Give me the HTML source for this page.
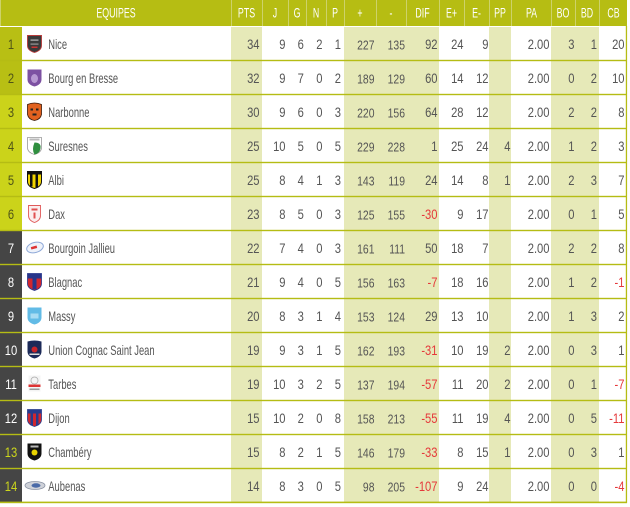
<!DOCTYPE html>
<html><head><meta charset="utf-8"><style>
html,body{margin:0;padding:0;background:#fff;}
svg{display:block;}
text{font-family:"Liberation Sans",sans-serif;font-size:14px;}
.n text{fill:#555;text-anchor:end;}
.s text{font-size:13px;}
.h{fill:#fff;text-anchor:middle;}
.red{fill:#e5393b !important;}
</style></head><body>
<svg width="630" height="507" viewBox="0 0 630 507" xmlns="http://www.w3.org/2000/svg">
<rect x="0" y="0" width="630" height="507" fill="#fff"/>
<!-- header -->
<rect x="0" y="0" width="627" height="26" fill="#b6bd13"/>
<g fill="#cdd26a">
<rect x="0" y="0" width="1" height="26"/>
<rect x="231" y="0" width="1" height="26"/>
<rect x="262" y="0" width="1" height="26"/>
<rect x="288" y="0" width="1" height="26"/>
<rect x="306" y="0" width="1" height="26"/>
<rect x="326" y="0" width="1" height="26"/>
<rect x="344" y="0" width="1" height="26"/>
<rect x="376" y="0" width="1" height="26"/>
<rect x="406" y="0" width="1" height="26"/>
<rect x="439" y="0" width="1" height="26"/>
<rect x="464" y="0" width="1" height="26"/>
<rect x="489" y="0" width="1" height="26"/>
<rect x="511" y="0" width="1" height="26"/>
<rect x="551" y="0" width="1" height="26"/>
<rect x="575" y="0" width="1" height="26"/>
<rect x="599" y="0" width="1" height="26"/>
</g>
<g class="h">
<text class="h" transform="translate(116,17.5) scale(.63,1)">EQUIPES</text>
<text class="h" transform="translate(246.5,17.5) scale(.63,1)">PTS</text>
<text class="h" transform="translate(275,17.5) scale(.63,1)">J</text>
<text class="h" transform="translate(297,17.5) scale(.63,1)">G</text>
<text class="h" transform="translate(316,17.5) scale(.63,1)">N</text>
<text class="h" transform="translate(335,17.5) scale(.63,1)">P</text>
<text class="h" transform="translate(360,17.5) scale(.63,1)">+</text>
<text class="h" transform="translate(391,17.5) scale(.63,1)">-</text>
<text class="h" transform="translate(422.5,17.5) scale(.63,1)">DIF</text>
<text class="h" transform="translate(451.5,17.5) scale(.63,1)">E+</text>
<text class="h" transform="translate(476.5,17.5) scale(.63,1)">E-</text>
<text class="h" transform="translate(500,17.5) scale(.63,1)">PP</text>
<text class="h" transform="translate(531.5,17.5) scale(.63,1)">PA</text>
<text class="h" transform="translate(563,17.5) scale(.63,1)">BO</text>
<text class="h" transform="translate(587,17.5) scale(.63,1)">BD</text>
<text class="h" transform="translate(613.5,17.5) scale(.63,1)">CB</text>
</g>
<!-- shaded columns -->
<g fill="#e6e9b8">
<rect x="231" y="27" width="31" height="476"/>
<rect x="344" y="27" width="95" height="476"/>
<rect x="489" y="27" width="22" height="476"/>
<rect x="551" y="27" width="48" height="476"/>
</g>
<!-- rank backgrounds -->
<rect x="0" y="27" width="22" height="68" fill="#b8bf14"/>
<rect x="0" y="95" width="22" height="136" fill="#cbd31a"/>
<rect x="0" y="231" width="22" height="272" fill="#454545"/>
<!-- row lines -->
<g fill="#b5bc14">
<rect x="0" y="59.8" width="627" height="1.4"/>
<rect x="0" y="93.8" width="627" height="1.4"/>
<rect x="0" y="127.8" width="627" height="1.4"/>
<rect x="0" y="161.8" width="627" height="1.4"/>
<rect x="0" y="195.8" width="627" height="1.4"/>
<rect x="0" y="229.8" width="627" height="1.4"/>
<rect x="0" y="263.8" width="627" height="1.4"/>
<rect x="0" y="297.8" width="627" height="1.4"/>
<rect x="0" y="331.8" width="627" height="1.4"/>
<rect x="0" y="365.8" width="627" height="1.4"/>
<rect x="0" y="399.8" width="627" height="1.4"/>
<rect x="0" y="433.8" width="627" height="1.4"/>
<rect x="0" y="467.8" width="627" height="1.4"/>
<rect x="0" y="501.6" width="627" height="1.6"/>
<rect x="625.8" y="26" width="1.3" height="477"/>
</g>
<!-- ranks -->
<g transform="translate(11,0) scale(.8,1)">
<text x="0" y="49" text-anchor="middle" fill="#4f5417">1</text>
<text x="0" y="83" text-anchor="middle" fill="#4f5417">2</text>
<text x="0" y="117" text-anchor="middle" fill="#4f5417">3</text>
<text x="0" y="151" text-anchor="middle" fill="#4f5417">4</text>
<text x="0" y="185" text-anchor="middle" fill="#4f5417">5</text>
<text x="0" y="219" text-anchor="middle" fill="#4f5417">6</text>
<text x="0" y="253" text-anchor="middle" fill="#fff">7</text>
<text x="0" y="287" text-anchor="middle" fill="#fff">8</text>
<text x="0" y="321" text-anchor="middle" fill="#fff">9</text>
<text x="0" y="355" text-anchor="middle" fill="#fff">10</text>
<text x="0" y="389" text-anchor="middle" fill="#fff">11</text>
<text x="0" y="423" text-anchor="middle" fill="#fff">12</text>
<text x="0" y="457" text-anchor="middle" fill="#cdd71c">13</text>
<text x="0" y="491" text-anchor="middle" fill="#cdd71c">14</text>
</g>
<!-- logos -->
<g transform="translate(34.5,43.5)"><path d="M-7,-8H7V2Q7,7 0,9Q-7,7 -7,2Z" fill="#3a3a3a" stroke="#b73a3a" stroke-width="0.9"/><rect x="-4" y="-4" width="8" height="1.2" fill="#bbb"/><rect x="-4" y="0" width="8" height="1.2" fill="#999"/><rect x="-3" y="3" width="6" height="1.5" fill="#c33"/></g>
<g transform="translate(34.5,77.5)"><path d="M-7,-8H7V2Q7,7 0,9Q-7,7 -7,2Z" fill="#7d51a2"/><ellipse cx="0" cy="1" rx="3.5" ry="4.5" fill="#b899d2"/></g>
<g transform="translate(34.5,111.5)"><path d="M-7,-7Q0,-10 7,-7V3Q6,8 0,9Q-6,8 -7,3Z" fill="#e1611f" stroke="#3a1a0a" stroke-width="0.8"/><rect x="-4" y="-3" width="2.5" height="2" fill="#222"/><rect x="1.5" y="-3" width="2.5" height="2" fill="#222"/><rect x="-2" y="2" width="4" height="2" fill="#222"/></g>
<g transform="translate(34.5,145.5)"><path d="M-7,-8H7V2Q7,7 0,9Q-7,7 -7,2Z" fill="#fff" stroke="#999" stroke-width="0.8"/><path d="M0,-3Q7,-3 6,3Q5,8 0,9Q-3,4 0,-3Z" fill="#2f8f3f"/><rect x="-5" y="-7" width="10" height="2" fill="#bbb"/></g>
<g transform="translate(34.5,179.5)"><path d="M-7,-8H7V2Q7,7 0,9Q-7,7 -7,2Z" fill="#f1d400" stroke="#111" stroke-width="1"/><rect x="-4.5" y="-7" width="2.5" height="14" fill="#111"/><rect x="1" y="-7" width="2.5" height="15" fill="#111"/><rect x="-7" y="-8" width="14" height="3" fill="#111"/></g>
<g transform="translate(34.5,213.5)"><path d="M-6,-8H6V2Q6,7 0,9Q-6,7 -6,2Z" fill="#fbeded" stroke="#e05a5a" stroke-width="0.9"/><rect x="-3" y="-5" width="6" height="2" fill="#e05050"/><rect x="-1" y="-1" width="2" height="6" fill="#e05050"/></g>
<g transform="translate(35,247.5) rotate(-15)"><ellipse cx="0" cy="0" rx="8.5" ry="5" fill="#eef2fa" stroke="#8fa9d8" stroke-width="1"/><rect x="-4" y="-1.5" width="6" height="2.5" fill="#d33"/></g>
<g transform="translate(34.5,281.5)"><path d="M-7,-8H7V2Q7,7 0,9Q-7,7 -7,2Z" fill="#d2262e" stroke="#27358a" stroke-width="0.8"/><rect x="-7" y="-8" width="14" height="5" fill="#27358a"/><rect x="-2" y="-3" width="4" height="11" fill="#27358a"/></g>
<g transform="translate(34.5,315.5)"><path d="M-7,-8H7V2Q7,7 0,9Q-7,7 -7,2Z" fill="#62bbe6"/><rect x="-4" y="-2" width="8" height="5" fill="#a9dcf3"/></g>
<g transform="translate(34.5,349.5)"><path d="M-7,-8Q0,-10 7,-8V2Q7,7 0,9Q-7,7 -7,2Z" fill="#1c2a58"/><circle cx="0" cy="0" r="3" fill="#c9252b"/><rect x="-5" y="4" width="10" height="1.5" fill="#ddd"/></g>
<g transform="translate(34.5,383.5)"><rect x="-6" y="-8" width="12" height="16" fill="#f4f4f4"/><circle cx="0" cy="-3" r="3.5" fill="none" stroke="#aaa" stroke-width="0.8"/><rect x="-6" y="1" width="12" height="2.5" fill="#d33"/><rect x="-5" y="5" width="10" height="1.5" fill="#999"/></g>
<g transform="translate(34.5,417.5)"><path d="M-7,-8H7V2Q7,7 0,9Q-7,7 -7,2Z" fill="#d0272f" stroke="#283b8c" stroke-width="0.8"/><rect x="-7" y="-8" width="14" height="4" fill="#283b8c"/><rect x="-4" y="-4" width="2.5" height="12" fill="#283b8c"/><rect x="1.5" y="-4" width="2.5" height="12" fill="#283b8c"/></g>
<g transform="translate(34.5,451.5)"><path d="M-7,-8H7V2Q7,7 0,9Q-7,7 -7,2Z" fill="#111"/><circle cx="0" cy="1" r="3" fill="#e6d200"/><rect x="-4" y="-6" width="8" height="2" fill="#bbb"/></g>
<g transform="translate(35,485.5)"><ellipse cx="0" cy="0" rx="10" ry="4" fill="#cfd2d9" stroke="#8a92a3" stroke-width="0.8"/><ellipse cx="1" cy="0" rx="4.5" ry="2.2" fill="#4a6aa8"/></g>
<!-- team names -->
<g transform="translate(48.3,0) scale(.67,1)" fill="#555">
<text x="0" y="49">Nice</text>
<text x="0" y="83">Bourg en Bresse</text>
<text x="0" y="117">Narbonne</text>
<text x="0" y="151">Suresnes</text>
<text x="0" y="185">Albi</text>
<text x="0" y="219">Dax</text>
<text x="0" y="253">Bourgoin Jallieu</text>
<text x="0" y="287">Blagnac</text>
<text x="0" y="321">Massy</text>
<text x="0" y="355">Union Cognac Saint Jean</text>
<text x="0" y="389">Tarbes</text>
<text x="0" y="423">Dijon</text>
<text x="0" y="457">Chambéry</text>
<text x="0" y="491">Aubenas</text>
</g>
<!-- PTS -->
<g class="n" transform="translate(259.5,0) scale(.8,1)">
<text y="49">34</text><text y="83">32</text><text y="117">30</text><text y="151">25</text><text y="185">25</text><text y="219">23</text><text y="253">22</text><text y="287">21</text><text y="321">20</text><text y="355">19</text><text y="389">19</text><text y="423">15</text><text y="457">15</text><text y="491">14</text>
</g>
<!-- J -->
<g class="n" transform="translate(285.5,0) scale(.8,1)">
<text y="49">9</text><text y="83">9</text><text y="117">9</text><text y="151">10</text><text y="185">8</text><text y="219">8</text><text y="253">7</text><text y="287">9</text><text y="321">8</text><text y="355">9</text><text y="389">10</text><text y="423">10</text><text y="457">8</text><text y="491">8</text>
</g>
<!-- G -->
<g class="n" transform="translate(303.8,0) scale(.8,1)">
<text y="49">6</text><text y="83">7</text><text y="117">6</text><text y="151">5</text><text y="185">4</text><text y="219">5</text><text y="253">4</text><text y="287">4</text><text y="321">3</text><text y="355">3</text><text y="389">3</text><text y="423">2</text><text y="457">2</text><text y="491">3</text>
</g>
<!-- N -->
<g class="n" transform="translate(322.5,0) scale(.8,1)">
<text y="49">2</text><text y="83">0</text><text y="117">0</text><text y="151">0</text><text y="185">1</text><text y="219">0</text><text y="253">0</text><text y="287">0</text><text y="321">1</text><text y="355">1</text><text y="389">2</text><text y="423">0</text><text y="457">1</text><text y="491">0</text>
</g>
<!-- P -->
<g class="n" transform="translate(341,0) scale(.8,1)">
<text y="49">1</text><text y="83">2</text><text y="117">3</text><text y="151">5</text><text y="185">3</text><text y="219">3</text><text y="253">3</text><text y="287">5</text><text y="321">4</text><text y="355">5</text><text y="389">5</text><text y="423">8</text><text y="457">5</text><text y="491">5</text>
</g>
<!-- + -->
<g class="n s" transform="translate(374.5,0.5) scale(.8,1)">
<text y="49">227</text><text y="83">189</text><text y="117">220</text><text y="151">229</text><text y="185">143</text><text y="219">125</text><text y="253">161</text><text y="287">156</text><text y="321">153</text><text y="355">162</text><text y="389">137</text><text y="423">158</text><text y="457">146</text><text y="491">98</text>
</g>
<!-- - -->
<g class="n s" transform="translate(405,0.5) scale(.8,1)">
<text y="49">135</text><text y="83">129</text><text y="117">156</text><text y="151">228</text><text y="185">119</text><text y="219">155</text><text y="253">111</text><text y="287">163</text><text y="321">124</text><text y="355">193</text><text y="389">194</text><text y="423">213</text><text y="457">179</text><text y="491">205</text>
</g>
<!-- DIF -->
<g class="n" transform="translate(437.5,0) scale(.8,1)">
<text y="49">92</text><text y="83">60</text><text y="117">64</text><text y="151">1</text><text y="185">24</text><text y="219" class="red">-30</text><text y="253">50</text><text y="287" class="red">-7</text><text y="321">29</text><text y="355" class="red">-31</text><text y="389" class="red">-57</text><text y="423" class="red">-55</text><text y="457" class="red">-33</text><text y="491" class="red">-107</text>
</g>
<!-- E+ -->
<g class="n" transform="translate(463.5,0) scale(.8,1)">
<text y="49">24</text><text y="83">14</text><text y="117">28</text><text y="151">25</text><text y="185">14</text><text y="219">9</text><text y="253">18</text><text y="287">18</text><text y="321">13</text><text y="355">10</text><text y="389">11</text><text y="423">11</text><text y="457">8</text><text y="491">9</text>
</g>
<!-- E- -->
<g class="n" transform="translate(488.5,0) scale(.8,1)">
<text y="49">9</text><text y="83">12</text><text y="117">12</text><text y="151">24</text><text y="185">8</text><text y="219">17</text><text y="253">7</text><text y="287">16</text><text y="321">10</text><text y="355">19</text><text y="389">20</text><text y="423">19</text><text y="457">15</text><text y="491">24</text>
</g>
<!-- PP -->
<g class="n" transform="translate(510.5,0) scale(.8,1)">
<text y="151">4</text><text y="185">1</text><text y="355">2</text><text y="389">2</text><text y="423">4</text><text y="457">1</text>
</g>
<!-- PA -->
<g class="n" transform="translate(549.5,0) scale(.8,1)">
<text y="49">2.00</text><text y="83">2.00</text><text y="117">2.00</text><text y="151">2.00</text><text y="185">2.00</text><text y="219">2.00</text><text y="253">2.00</text><text y="287">2.00</text><text y="321">2.00</text><text y="355">2.00</text><text y="389">2.00</text><text y="423">2.00</text><text y="457">2.00</text><text y="491">2.00</text>
</g>
<!-- BO -->
<g class="n" transform="translate(574.5,0) scale(.8,1)">
<text y="49">3</text><text y="83">0</text><text y="117">2</text><text y="151">1</text><text y="185">2</text><text y="219">0</text><text y="253">2</text><text y="287">1</text><text y="321">1</text><text y="355">0</text><text y="389">0</text><text y="423">0</text><text y="457">0</text><text y="491">0</text>
</g>
<!-- BD -->
<g class="n" transform="translate(597,0) scale(.8,1)">
<text y="49">1</text><text y="83">2</text><text y="117">2</text><text y="151">2</text><text y="185">3</text><text y="219">1</text><text y="253">2</text><text y="287">2</text><text y="321">3</text><text y="355">3</text><text y="389">1</text><text y="423">5</text><text y="457">3</text><text y="491">0</text>
</g>
<!-- CB -->
<g class="n" transform="translate(624.5,0) scale(.8,1)">
<text y="49">20</text><text y="83">10</text><text y="117">8</text><text y="151">3</text><text y="185">7</text><text y="219">5</text><text y="253">8</text><text y="287" class="red">-1</text><text y="321">2</text><text y="355">1</text><text y="389" class="red">-7</text><text y="423" class="red">-11</text><text y="457">1</text><text y="491" class="red">-4</text>
</g>
</svg>
</body></html>
